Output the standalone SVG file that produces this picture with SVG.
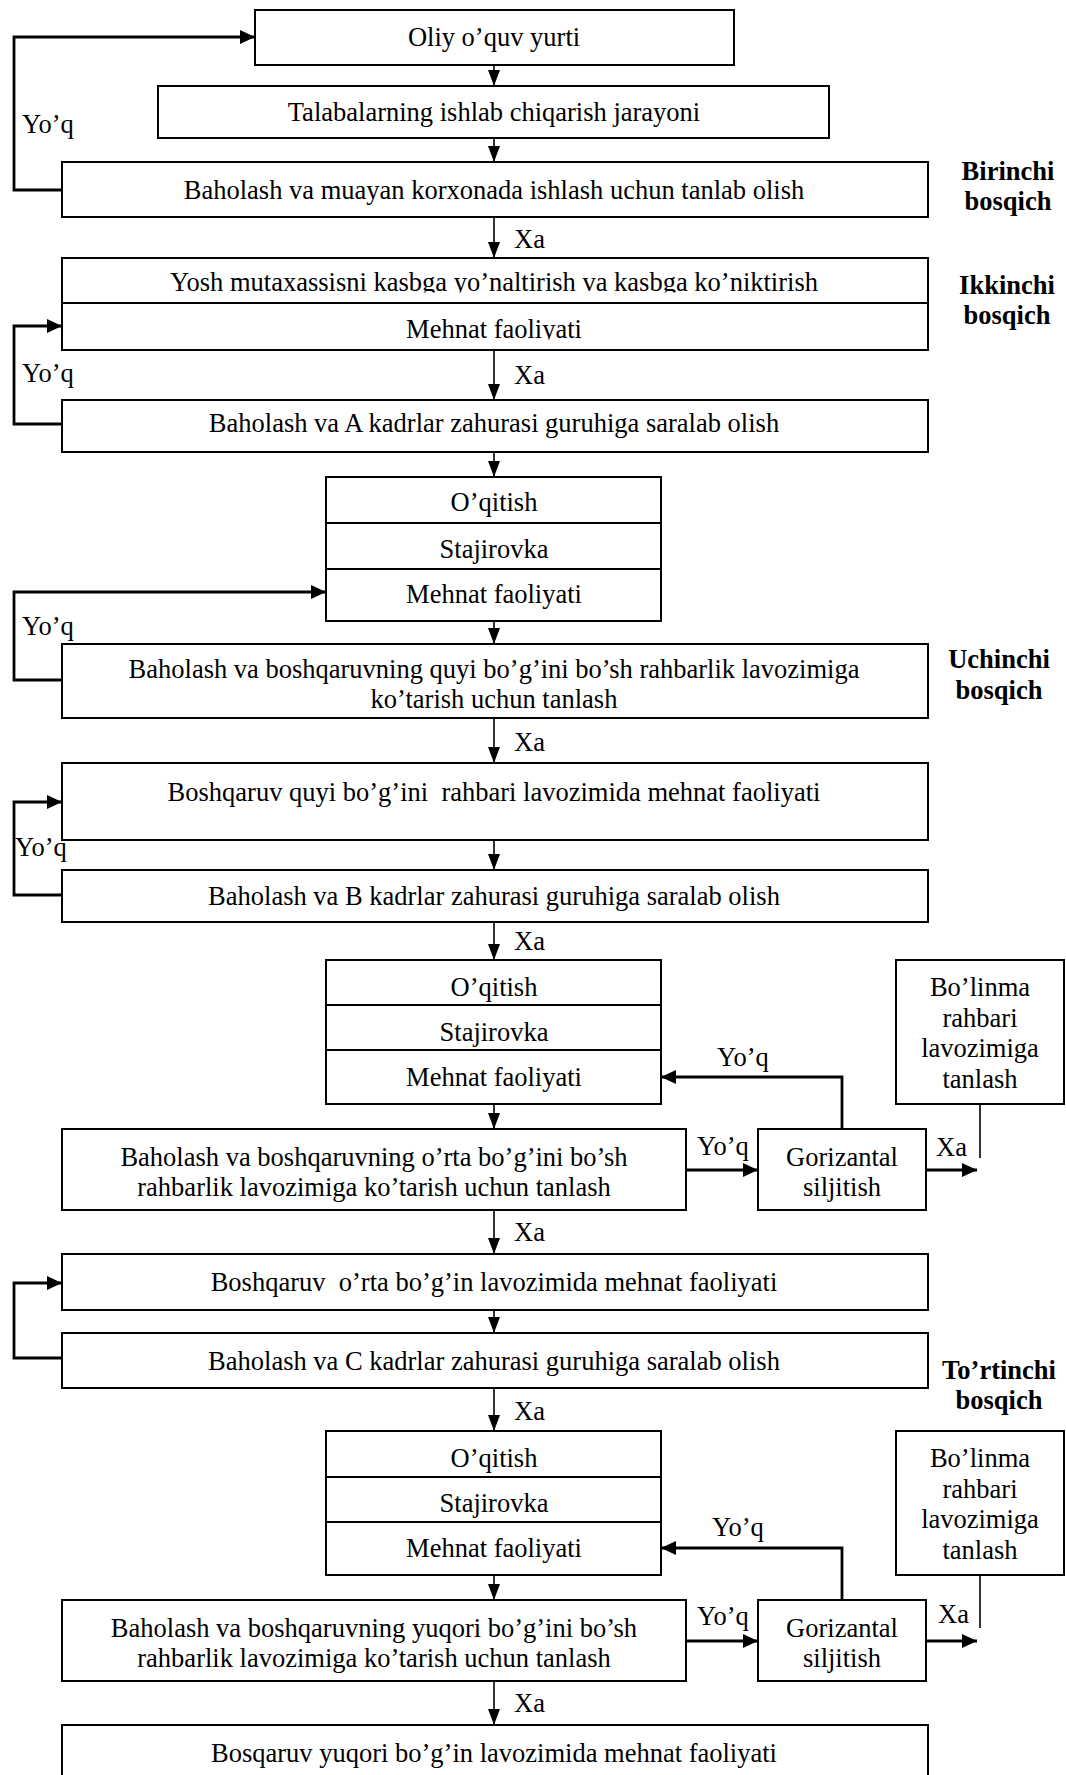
<svg xmlns="http://www.w3.org/2000/svg" width="1066" height="1775" viewBox="0 0 1066 1775">
<style>
  .box{fill:#fff;stroke:#000;stroke-width:2}
  .div{stroke:#000;stroke-width:2}
  .t{font-family:"Liberation Serif","Times New Roman",serif;font-size:26.5px;fill:#000;text-anchor:middle}
  .l{font-family:"Liberation Serif","Times New Roman",serif;font-size:26.5px;fill:#000}
  .st{font-family:"Liberation Serif","Times New Roman",serif;font-size:26.5px;font-weight:bold;fill:#000;text-anchor:middle}
  .thin{fill:none;stroke:#000;stroke-width:1.6}
  .thick{fill:none;stroke:#000;stroke-width:2.8}
</style>
<defs>
  <marker id="aThin" markerUnits="userSpaceOnUse" markerWidth="17" markerHeight="13" refX="16" refY="6" orient="auto">
    <path d="M0,0 L16,6 L0,12 Z" fill="#000"/>
  </marker>
  <marker id="aBold" markerUnits="userSpaceOnUse" markerWidth="16" markerHeight="14" refX="15" refY="7" orient="auto">
    <path d="M0,0 L15,7 L0,14 Z" fill="#000"/>
  </marker>
  <clipPath id="clip4a"><rect x="62" y="258" width="866" height="34.5"/></clipPath>
  <clipPath id="clip4b"><rect x="62" y="303" width="866" height="36.5"/></clipPath>
</defs>

<g id="connectors">
  <path class="thin" d="M494,65 V86" marker-end="url(#aThin)"/>
  <path class="thin" d="M494,138 V162" marker-end="url(#aThin)"/>
  <path class="thin" d="M494,217 V258" marker-end="url(#aThin)"/>
  <path class="thin" d="M494,350 V400" marker-end="url(#aThin)"/>
  <path class="thin" d="M494,452 V477" marker-end="url(#aThin)"/>
  <path class="thin" d="M494,621 V644" marker-end="url(#aThin)"/>
  <path class="thin" d="M494,718 V763" marker-end="url(#aThin)"/>
  <path class="thin" d="M494,840 V870" marker-end="url(#aThin)"/>
  <path class="thin" d="M494,922 V960" marker-end="url(#aThin)"/>
  <path class="thin" d="M494,1104 V1129" marker-end="url(#aThin)"/>
  <path class="thin" d="M494,1210 V1254" marker-end="url(#aThin)"/>
  <path class="thin" d="M494,1310 V1333" marker-end="url(#aThin)"/>
  <path class="thin" d="M494,1388 V1431" marker-end="url(#aThin)"/>
  <path class="thin" d="M494,1575 V1600" marker-end="url(#aThin)"/>
  <path class="thin" d="M494,1681 V1725" marker-end="url(#aThin)"/>

  <path class="thick" d="M62,190 H14 V37 H255" marker-end="url(#aBold)"/>
  <path class="thick" d="M62,424 H14 V326 H62" marker-end="url(#aBold)"/>
  <path class="thick" d="M62,680 H14 V592 H326" marker-end="url(#aBold)"/>
  <path class="thick" d="M62,895 H14 V802 H62" marker-end="url(#aBold)"/>
  <path class="thick" d="M62,1358 H14 V1283 H62" marker-end="url(#aBold)"/>

  <path class="thick" d="M686,1170 H758" marker-end="url(#aBold)"/>
  <path class="thick" d="M842,1129 V1077 H661" marker-end="url(#aBold)"/>
  <path class="thick" d="M926,1170 H977" marker-end="url(#aBold)"/>
  <path class="thin" d="M980,1104 V1158"/>

  <path class="thick" d="M686,1641 H758" marker-end="url(#aBold)"/>
  <path class="thick" d="M842,1600 V1548 H661" marker-end="url(#aBold)"/>
  <path class="thick" d="M926,1641 H977" marker-end="url(#aBold)"/>
  <path class="thin" d="M980,1575 V1628"/>

  <text class="l" x="514" y="248">Xa</text>
  <text class="l" x="514" y="384">Xa</text>
  <text class="l" x="514" y="751">Xa</text>
  <text class="l" x="514" y="950">Xa</text>
  <text class="l" x="514" y="1241">Xa</text>
  <text class="l" x="514" y="1420">Xa</text>
  <text class="l" x="514" y="1712">Xa</text>
  <text class="l" x="936" y="1156">Xa</text>
  <text class="l" x="938" y="1623">Xa</text>

  <text class="l" x="22" y="133">Yo’q</text>
  <text class="l" x="22" y="382">Yo’q</text>
  <text class="l" x="22" y="635">Yo’q</text>
  <text class="l" x="15" y="856">Yo’q</text>
  <text class="l" x="697" y="1155">Yo’q</text>
  <text class="l" x="717" y="1066">Yo’q</text>
  <text class="l" x="697" y="1625">Yo’q</text>
  <text class="l" x="712" y="1536">Yo’q</text>
</g>

<g id="n1"><rect class="box" x="255" y="10" width="479" height="55"/><text class="t" x="494" y="46">Oliy o’quv yurti</text></g>
<g id="n2"><rect class="box" x="158" y="86" width="671" height="52"/><text class="t" x="494" y="121">Talabalarning ishlab chiqarish jarayoni</text></g>
<g id="n3"><rect class="box" x="62" y="162" width="866" height="55"/><text class="t" x="494" y="199">Baholash va muayan korxonada ishlash uchun tanlab olish</text></g>
<g id="n4"><rect class="box" x="62" y="258" width="866" height="92"/><line class="div" x1="62" y1="303" x2="928" y2="303"/>
  <text class="t" x="494" y="291" clip-path="url(#clip4a)">Yosh mutaxassisni kasbga yo’naltirish va kasbga ko’niktirish</text>
  <text class="t" x="494" y="338" clip-path="url(#clip4b)">Mehnat faoliyati</text></g>
<g id="n5"><rect class="box" x="62" y="400" width="866" height="52"/><text class="t" x="494" y="432">Baholash va A kadrlar zahurasi guruhiga saralab olish</text></g>
<g id="n6"><rect class="box" x="326" y="477" width="335" height="144"/><line class="div" x1="326" y1="523" x2="661" y2="523"/><line class="div" x1="326" y1="569" x2="661" y2="569"/>
  <text class="t" x="494" y="511">O’qitish</text><text class="t" x="494" y="558">Stajirovka</text><text class="t" x="494" y="603">Mehnat faoliyati</text></g>
<g id="n7"><rect class="box" x="62" y="644" width="866" height="74"/>
  <text class="t" x="494" y="678">Baholash va boshqaruvning quyi bo’g’ini bo’sh rahbarlik lavozimiga</text>
  <text class="t" x="494" y="708">ko’tarish uchun tanlash</text></g>
<g id="n8"><rect class="box" x="62" y="763" width="866" height="77"/><text class="t" x="494" y="801" xml:space="preserve">Boshqaruv quyi bo’g’ini  rahbari lavozimida mehnat faoliyati</text></g>
<g id="n9"><rect class="box" x="62" y="870" width="866" height="52"/><text class="t" x="494" y="905">Baholash va B kadrlar zahurasi guruhiga saralab olish</text></g>
<g id="n10"><rect class="box" x="326" y="960" width="335" height="144"/><line class="div" x1="326" y1="1005" x2="661" y2="1005"/><line class="div" x1="326" y1="1050" x2="661" y2="1050"/>
  <text class="t" x="494" y="996">O’qitish</text><text class="t" x="494" y="1041">Stajirovka</text><text class="t" x="494" y="1086">Mehnat faoliyati</text></g>
<g id="n11"><rect class="box" x="896" y="960" width="168" height="144"/>
  <text class="t" x="980" y="996">Bo’linma</text><text class="t" x="980" y="1027">rahbari</text><text class="t" x="980" y="1057">lavozimiga</text><text class="t" x="980" y="1088">tanlash</text></g>
<g id="n12"><rect class="box" x="62" y="1129" width="624" height="81"/>
  <text class="t" x="374" y="1166">Baholash va boshqaruvning o’rta bo’g’ini bo’sh</text>
  <text class="t" x="374" y="1196">rahbarlik lavozimiga ko’tarish uchun tanlash</text></g>
<g id="n13"><rect class="box" x="758" y="1129" width="168" height="81"/>
  <text class="t" x="842" y="1166">Gorizantal</text><text class="t" x="842" y="1196">siljitish</text></g>
<g id="n14"><rect class="box" x="62" y="1254" width="866" height="56"/><text class="t" x="494" y="1291" xml:space="preserve">Boshqaruv  o’rta bo’g’in lavozimida mehnat faoliyati</text></g>
<g id="n15"><rect class="box" x="62" y="1333" width="866" height="55"/><text class="t" x="494" y="1370">Baholash va C kadrlar zahurasi guruhiga saralab olish</text></g>
<g id="n16"><rect class="box" x="326" y="1431" width="335" height="144"/><line class="div" x1="326" y1="1477" x2="661" y2="1477"/><line class="div" x1="326" y1="1522" x2="661" y2="1522"/>
  <text class="t" x="494" y="1467">O’qitish</text><text class="t" x="494" y="1512">Stajirovka</text><text class="t" x="494" y="1557">Mehnat faoliyati</text></g>
<g id="n17"><rect class="box" x="896" y="1431" width="168" height="144"/>
  <text class="t" x="980" y="1467">Bo’linma</text><text class="t" x="980" y="1498">rahbari</text><text class="t" x="980" y="1528">lavozimiga</text><text class="t" x="980" y="1559">tanlash</text></g>
<g id="n18"><rect class="box" x="62" y="1600" width="624" height="81"/>
  <text class="t" x="374" y="1637">Baholash va boshqaruvning yuqori bo’g’ini bo’sh</text>
  <text class="t" x="374" y="1667">rahbarlik lavozimiga ko’tarish uchun tanlash</text></g>
<g id="n19"><rect class="box" x="758" y="1600" width="168" height="81"/>
  <text class="t" x="842" y="1637">Gorizantal</text><text class="t" x="842" y="1667">siljitish</text></g>
<g id="n20"><rect class="box" x="62" y="1725" width="866" height="80"/><text class="t" x="494" y="1762">Bosqaruv yuqori bo’g’in lavozimida mehnat faoliyati</text></g>

<g id="stages">
  <text class="st" x="1008" y="180">Birinchi</text><text class="st" x="1008" y="210">bosqich</text>
  <text class="st" x="1007" y="294">Ikkinchi</text><text class="st" x="1007" y="324">bosqich</text>
  <text class="st" x="999" y="668">Uchinchi</text><text class="st" x="999" y="699">bosqich</text>
  <text class="st" x="999" y="1379">To’rtinchi</text><text class="st" x="999" y="1409">bosqich</text>
</g>
</svg>
